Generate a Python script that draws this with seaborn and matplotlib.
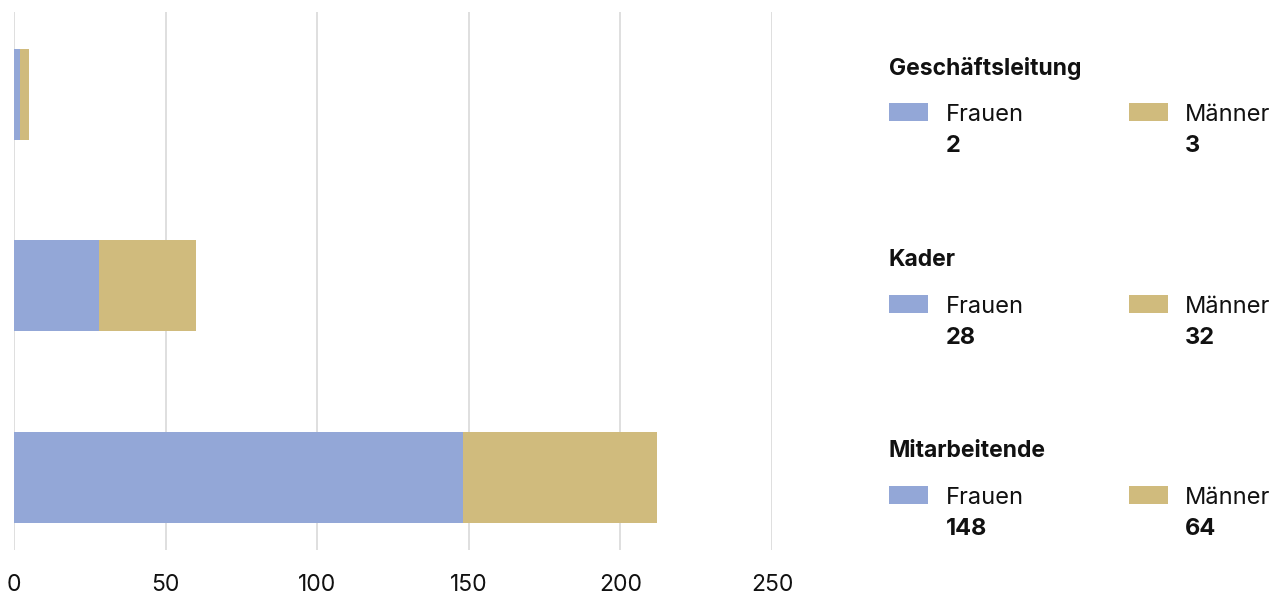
import matplotlib
matplotlib.use("Agg")
import matplotlib.pyplot as plt
import seaborn as sns
import pandas as pd
from matplotlib.patches import Rectangle
from matplotlib.transforms import IdentityTransform

# data
categories = ["Geschäftsleitung", "Kader", "Mitarbeitende"]
frauen = [2, 28, 148]
maenner = [3, 32, 64]
series_names = ["Frauen", "Männer"]
xticks = [0, 50, 100, 150, 200, 250]

blue = "#93a7d7"
gold = "#d0bb7d"

sns.set_theme(style="white")
plt.rcParams["font.family"] = ["Inter", "DejaVu Sans"]

df = pd.DataFrame({"cat": categories, "Frauen": frauen, "Männer": maenner})
df["total"] = df["Frauen"] + df["Männer"]

fig = plt.figure(figsize=(12.86, 5.96), dpi=100)
ax = fig.add_axes([14 / 1286, 46 / 596, 758 / 1286, 538 / 596])

sns.barplot(data=df, x="total", y="cat", color=gold, width=0.475,
            saturation=1, ax=ax, orient="h", linewidth=0)
sns.barplot(data=df, x="Frauen", y="cat", color=blue, width=0.475,
            saturation=1, ax=ax, orient="h", linewidth=0)

ax.set_xlim(0, 250)
ax.set_ylim(2.38, -0.43)
ax.set_xticks(xticks)
ax.set_yticks([])
ax.set_xlabel("")
ax.set_ylabel("")
ax.grid(axis="x", color="#d9d9d9", linewidth=1.2)
ax.set_axisbelow(True)
for s in ax.spines.values():
    s.set_visible(False)
ax.tick_params(axis="x", length=0, pad=17, labelsize=16.5, labelcolor="#111111")

# legend-like side panel, one block per category
fig.canvas.draw()
ident = IdentityTransform()
cols = [(889, 946, blue, frauen), (1129, 1185, gold, maenner)]
for i, cat in enumerate(categories):
    yc = ax.transData.transform((0, i))[1] - 3
    fig.text(889, yc + 29, cat, transform=ident, fontsize=16.5,
             fontweight="bold", va="center", ha="left", color="#111111")
    for (px, tx, col, vals), name in zip(cols, series_names):
        fig.add_artist(Rectangle((px, yc - 24), 39, 18, transform=ident,
                                 facecolor=col, edgecolor="none"))
        fig.text(tx, yc - 18, name, transform=ident, fontsize=17,
                 va="center", ha="left", color="#111111")
        fig.text(tx, yc - 49, str(vals[i]), transform=ident, fontsize=17,
                 fontweight="bold", va="center", ha="left", color="#111111")

fig.savefig("out.png", dpi=100)
